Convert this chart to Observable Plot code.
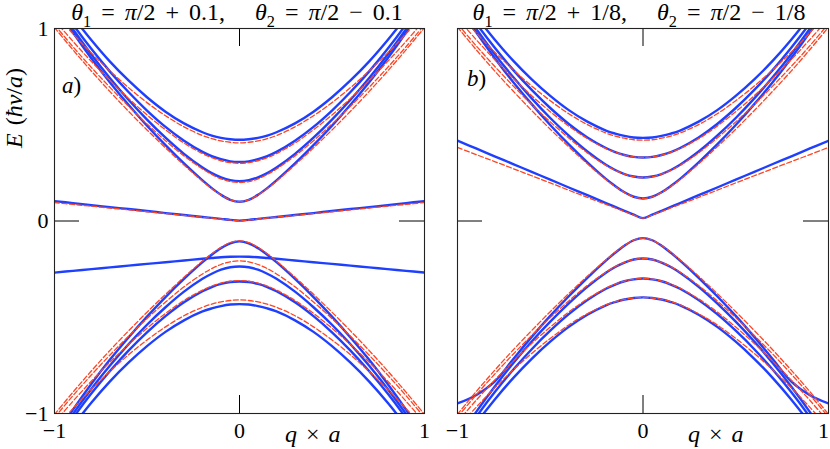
<!DOCTYPE html>
<html><head><meta charset="utf-8">
<script src="https://cdn.jsdelivr.net/npm/d3@7"></script>
<script src="https://cdn.jsdelivr.net/npm/@observablehq/plot@0.6"></script>
<style>
html,body{margin:0;padding:0;background:#fff;}
#wrap{position:relative;width:830px;height:449px;overflow:hidden;background:#fff;}
#wrap svg{position:absolute;top:0;left:0;}
</style></head><body><div id="wrap"></div>
<script>
// q × a sample positions
const qs = [-1,-0.9,-0.8,-0.7,-0.6,-0.5,-0.4,-0.3,-0.2,-0.15,-0.1,-0.05,0,0.05,0.1,0.15,0.2,0.3,0.4,0.5,0.6,0.7,0.8,0.9,1];
const xTicks = [-1, 0, 1];
const yTicks = [-1, 0, 1];
const innerTicks = [0];

// ---- panel a) blue (solid) ----
const aBlueUp1 = [1.125,0.979,0.844,0.720,0.604,0.495,0.394,0.299,0.211,0.171,0.136,0.110,0.100,0.110,0.136,0.171,0.211,0.299,0.394,0.495,0.604,0.720,0.844,0.979,1.125];
const aBlueUp2 = [1.139,0.996,0.864,0.742,0.630,0.527,0.433,0.349,0.278,0.249,0.227,0.212,0.207,0.212,0.227,0.249,0.278,0.349,0.433,0.527,0.630,0.742,0.864,0.996,1.139];
const aBlueUp3 = [1.161,1.021,0.893,0.776,0.670,0.574,0.489,0.417,0.359,0.337,0.321,0.310,0.307,0.310,0.321,0.337,0.359,0.417,0.489,0.574,0.670,0.776,0.893,1.021,1.161];
const aBlueUp4 = [1.197,1.061,0.939,0.828,0.730,0.643,0.568,0.507,0.461,0.444,0.432,0.425,0.422,0.425,0.432,0.444,0.461,0.507,0.568,0.643,0.730,0.828,0.939,1.061,1.197];
const aBlueFlatUp = [0.103,0.093,0.082,0.072,0.062,0.052,0.041,0.031,0.021,0.016,0.011,0.006,0.002,0.006,0.011,0.016,0.021,0.031,0.041,0.052,0.062,0.072,0.082,0.093,0.103];
const aBlueFlatLo = [-0.268,-0.259,-0.250,-0.241,-0.232,-0.223,-0.214,-0.205,-0.196,-0.192,-0.188,-0.186,-0.185,-0.186,-0.188,-0.192,-0.196,-0.205,-0.214,-0.223,-0.232,-0.241,-0.250,-0.259,-0.268];
const aBlueLo1 = [-1.125,-0.980,-0.845,-0.720,-0.605,-0.497,-0.395,-0.301,-0.214,-0.175,-0.141,-0.116,-0.106,-0.116,-0.141,-0.175,-0.214,-0.301,-0.395,-0.497,-0.605,-0.720,-0.845,-0.980,-1.125];
const aBlueLo2 = [-1.145,-1.002,-0.871,-0.751,-0.640,-0.539,-0.448,-0.367,-0.300,-0.274,-0.253,-0.240,-0.236,-0.240,-0.253,-0.274,-0.300,-0.367,-0.448,-0.539,-0.640,-0.751,-0.871,-1.002,-1.145];
const aBlueLo3 = [-1.163,-1.023,-0.895,-0.779,-0.673,-0.578,-0.494,-0.422,-0.365,-0.343,-0.327,-0.317,-0.314,-0.317,-0.327,-0.343,-0.365,-0.422,-0.494,-0.578,-0.673,-0.779,-0.895,-1.023,-1.163];
const aBlueLo4 = [-1.200,-1.065,-0.943,-0.833,-0.736,-0.650,-0.576,-0.516,-0.470,-0.454,-0.442,-0.434,-0.432,-0.434,-0.442,-0.454,-0.470,-0.516,-0.576,-0.650,-0.736,-0.833,-0.943,-1.065,-1.200];

// ---- panel a) red (dashed) ----
const aRedUp1 = [1.005,0.889,0.778,0.672,0.570,0.473,0.380,0.291,0.207,0.168,0.135,0.110,0.100,0.110,0.135,0.168,0.207,0.291,0.380,0.473,0.570,0.672,0.778,0.889,1.005];
const aRedUp2 = [1.020,0.905,0.797,0.694,0.596,0.504,0.417,0.338,0.270,0.242,0.219,0.205,0.200,0.205,0.219,0.242,0.270,0.338,0.417,0.504,0.596,0.694,0.797,0.905,1.020];
const aRedUp3 = [1.044,0.933,0.828,0.729,0.637,0.551,0.474,0.405,0.350,0.329,0.313,0.303,0.300,0.303,0.313,0.329,0.350,0.405,0.474,0.551,0.637,0.729,0.828,0.933,1.044];
const aRedUp4 = [1.079,0.972,0.872,0.779,0.693,0.615,0.547,0.489,0.444,0.428,0.416,0.409,0.406,0.409,0.416,0.428,0.444,0.489,0.547,0.615,0.693,0.779,0.872,0.972,1.079];
const aRedFlatUp = [0.096,0.086,0.077,0.067,0.058,0.048,0.039,0.029,0.020,0.015,0.010,0.005,0.000,0.005,0.010,0.015,0.020,0.029,0.039,0.048,0.058,0.067,0.077,0.086,0.096];
const aRedLo1 = [-1.005,-0.889,-0.778,-0.672,-0.571,-0.474,-0.381,-0.292,-0.208,-0.170,-0.137,-0.112,-0.103,-0.112,-0.137,-0.170,-0.208,-0.292,-0.381,-0.474,-0.571,-0.672,-0.778,-0.889,-1.005];
const aRedLo2 = [-1.021,-0.907,-0.799,-0.696,-0.599,-0.507,-0.421,-0.342,-0.275,-0.247,-0.226,-0.212,-0.207,-0.212,-0.226,-0.247,-0.275,-0.342,-0.421,-0.507,-0.599,-0.696,-0.799,-0.907,-1.021];
const aRedLo3 = [-1.047,-0.936,-0.831,-0.733,-0.642,-0.557,-0.480,-0.413,-0.359,-0.338,-0.323,-0.313,-0.310,-0.313,-0.323,-0.338,-0.359,-0.413,-0.480,-0.557,-0.642,-0.733,-0.831,-0.936,-1.047];
const aRedLo4 = [-1.081,-0.974,-0.873,-0.781,-0.695,-0.618,-0.550,-0.492,-0.448,-0.432,-0.420,-0.413,-0.410,-0.413,-0.420,-0.432,-0.448,-0.492,-0.550,-0.618,-0.695,-0.781,-0.873,-0.974,-1.081];

// ---- panel b) blue (solid) ----
const bBlueUp1 = [1.126,0.981,0.847,0.722,0.607,0.499,0.398,0.305,0.219,0.182,0.149,0.126,0.117,0.126,0.149,0.182,0.219,0.305,0.398,0.499,0.607,0.722,0.847,0.981,1.126];
const bBlueUp2 = [1.143,1.000,0.868,0.748,0.637,0.535,0.443,0.361,0.292,0.265,0.244,0.231,0.226,0.231,0.244,0.265,0.292,0.361,0.443,0.535,0.637,0.748,0.868,1.000,1.143];
const bBlueUp3 = [1.168,1.028,0.901,0.785,0.681,0.587,0.504,0.434,0.379,0.358,0.343,0.333,0.330,0.333,0.343,0.358,0.379,0.434,0.504,0.587,0.681,0.785,0.901,1.028,1.168];
const bBlueUp4 = [1.200,1.065,0.943,0.833,0.736,0.650,0.576,0.516,0.470,0.454,0.442,0.434,0.432,0.434,0.442,0.454,0.470,0.516,0.576,0.650,0.736,0.833,0.943,1.065,1.200];
const bBlueFlat = [0.417,0.377,0.336,0.296,0.255,0.215,0.174,0.134,0.093,0.073,0.053,0.033,0.015,0.033,0.053,0.073,0.093,0.134,0.174,0.215,0.255,0.296,0.336,0.377,0.417];
const bBlueLo1 = [-0.948,-0.905,-0.835,-0.718,-0.602,-0.493,-0.391,-0.295,-0.206,-0.165,-0.128,-0.100,-0.089,-0.100,-0.128,-0.165,-0.206,-0.295,-0.391,-0.493,-0.602,-0.718,-0.835,-0.905,-0.948];
const bBlueLo2 = [-1.137,-0.993,-0.861,-0.739,-0.626,-0.523,-0.428,-0.342,-0.269,-0.239,-0.216,-0.200,-0.195,-0.200,-0.216,-0.239,-0.269,-0.342,-0.428,-0.523,-0.626,-0.739,-0.861,-0.993,-1.137];
const bBlueLo3 = [-1.159,-1.019,-0.890,-0.773,-0.666,-0.570,-0.484,-0.411,-0.352,-0.330,-0.313,-0.303,-0.299,-0.303,-0.313,-0.330,-0.352,-0.411,-0.484,-0.570,-0.666,-0.773,-0.890,-1.019,-1.159];
const bBlueLo4 = [-1.188,-1.052,-0.928,-0.816,-0.716,-0.627,-0.550,-0.487,-0.438,-0.421,-0.408,-0.400,-0.397,-0.400,-0.408,-0.421,-0.438,-0.487,-0.550,-0.627,-0.716,-0.816,-0.928,-1.052,-1.188];

// ---- panel b) red (dashed) ----
const bRedUp1 = [1.007,0.891,0.780,0.675,0.574,0.477,0.385,0.297,0.215,0.179,0.148,0.125,0.117,0.125,0.148,0.179,0.215,0.297,0.385,0.477,0.574,0.675,0.780,0.891,1.007];
const bRedUp2 = [1.025,0.911,0.804,0.702,0.605,0.515,0.431,0.354,0.289,0.263,0.243,0.230,0.226,0.230,0.243,0.263,0.289,0.354,0.431,0.515,0.605,0.702,0.804,0.911,1.025];
const bRedUp3 = [1.053,0.943,0.839,0.742,0.651,0.568,0.493,0.428,0.376,0.357,0.342,0.333,0.330,0.333,0.342,0.357,0.376,0.428,0.493,0.568,0.651,0.742,0.839,0.943,1.053];
const bRedUp4 = [1.085,0.978,0.878,0.786,0.701,0.625,0.557,0.501,0.457,0.441,0.430,0.422,0.420,0.422,0.430,0.441,0.457,0.501,0.557,0.625,0.701,0.786,0.878,0.978,1.085];
const bRedFlat = [0.382,0.345,0.309,0.272,0.235,0.198,0.160,0.123,0.086,0.068,0.049,0.031,0.015,0.031,0.049,0.068,0.086,0.123,0.160,0.198,0.235,0.272,0.309,0.345,0.382];
const bRedLo1 = [-1.004,-0.887,-0.776,-0.670,-0.569,-0.471,-0.377,-0.287,-0.202,-0.162,-0.127,-0.100,-0.089,-0.100,-0.127,-0.162,-0.202,-0.287,-0.377,-0.471,-0.569,-0.670,-0.776,-0.887,-1.004];
const bRedLo2 = [-1.019,-0.904,-0.796,-0.692,-0.595,-0.502,-0.415,-0.335,-0.266,-0.237,-0.215,-0.200,-0.195,-0.200,-0.215,-0.237,-0.266,-0.335,-0.415,-0.502,-0.595,-0.692,-0.796,-0.904,-1.019];
const bRedLo3 = [-1.044,-0.932,-0.827,-0.729,-0.636,-0.551,-0.473,-0.405,-0.349,-0.328,-0.312,-0.302,-0.299,-0.302,-0.312,-0.328,-0.349,-0.405,-0.473,-0.551,-0.636,-0.729,-0.827,-0.932,-1.044];
const bRedLo4 = [-1.076,-0.968,-0.867,-0.774,-0.688,-0.610,-0.540,-0.482,-0.436,-0.419,-0.407,-0.400,-0.397,-0.400,-0.407,-0.419,-0.436,-0.482,-0.540,-0.610,-0.688,-0.774,-0.867,-0.968,-1.076];

// ---- texts ----
const titleA = [["θ","i"],["1","sub"],[" = ",""],["π","i"],["/2 + 0.1,   ",""],["θ","i"],["2","sub"],[" = ",""],["π","i"],["/2 − 0.1",""]];
const titleB = [["θ","i"],["1","sub"],[" = ",""],["π","i"],["/2 + 1/8,   ",""],["θ","i"],["2","sub"],[" = ",""],["π","i"],["/2 − 1/8",""]];
const yLabel = [["E","i"],[" (",""],["ħv","i"],["/",""],["a","i"],[")",""]];
const xLabel = [["q","i"],[" × ",""],["a","i"]];
const panelA = [["a","i"],[")",""]];
const panelB = [["b","i"],[")",""]];

// ---- style ----
const SERIF = "'Liberation Serif', 'Times New Roman', Times, 'DejaVu Serif', serif";
const BLUE = "#1f3fff";
const RED = "#ff4422";
const W = 830, H = 449, MT = 28, MB = 36;
const TICK_X = 18, TICK_Y = 25;
const FS = 22;
const fmt = d => (d < 0 ? "\u2212" : "") + Math.abs(d);

function rows(list) {
  return list.flatMap(([name, vals]) => qs.map((q, i) => ({q, E: vals[i], s: name})));
}

const panels = [
  {
    ml: 54, mr: 406, showY: true,
    blue: rows([["u1",aBlueUp1],["u2",aBlueUp2],["u3",aBlueUp3],["u4",aBlueUp4],["fu",aBlueFlatUp],["fl",aBlueFlatLo],["l1",aBlueLo1],["l2",aBlueLo2],["l3",aBlueLo3],["l4",aBlueLo4]]),
    red: rows([["u1",aRedUp1],["u2",aRedUp2],["u3",aRedUp3],["u4",aRedUp4],["fu",aRedFlatUp],["l1",aRedLo1],["l2",aRedLo2],["l3",aRedLo3],["l4",aRedLo4]]),
    title: titleA, titleX: 237, label: panelA, lastDx: 0
  },
  {
    ml: 457, mr: 2, showY: false,
    blue: rows([["u1",bBlueUp1],["u2",bBlueUp2],["u3",bBlueUp3],["u4",bBlueUp4],["fu",bBlueFlat],["l1",bBlueLo1],["l2",bBlueLo2],["l3",bBlueLo3],["l4",bBlueLo4]]),
    red: rows([["u1",bRedUp1],["u2",bRedUp2],["u3",bRedUp3],["u4",bRedUp4],["fu",bRedFlat],["l1",bRedLo1],["l2",bRedLo2],["l3",bRedLo3],["l4",bRedLo4]]),
    title: titleB, titleX: 639, label: panelB, lastDx: -5
  }
];

function rich(svg, x, y, parts, o = {}) {
  const size = o.size || FS;
  const t = d3.select(svg).append("text")
    .attr("transform", `translate(${x},${y})` + (o.rotate ? ` rotate(${o.rotate})` : ""))
    .attr("text-anchor", o.anchor || "start")
    .style("font-family", SERIF).style("font-size", size + "px")
    .style("word-spacing", (o.ws || 0) + "px")
    .attr("fill", "#000").style("white-space", "pre");
  let shift = 0;
  for (const [s, st] of parts) {
    const ts = t.append("tspan").text(s);
    const want = st === "sub" ? size * 0.28 : 0;
    if (want !== shift) { ts.attr("dy", want - shift); shift = want; }
    if (st === "i") ts.style("font-style", "italic");
    if (st === "sub") ts.style("font-size", (size * 0.68) + "px");
  }
}

const wrap = document.getElementById("wrap");
panels.forEach((p, k) => {
  const innerW = W - p.ml - p.mr, innerH = H - MT - MB;
  const svg = Plot.plot({
    width: W, height: H,
    marginLeft: p.ml, marginRight: p.mr, marginTop: MT, marginBottom: MB,
    x: {domain: [-1, 1], label: null, axis: null},
    y: {domain: [-1, 1], label: null, axis: null},
    style: {background: "transparent", fontFamily: SERIF, color: "#000", overflow: "visible"},
    marks: [
      Plot.line(p.blue, {x: "q", y: "E", z: "s", stroke: BLUE, strokeWidth: 2.4, curve: "catmull-rom", clip: true}),
      Plot.line(p.red, {x: "q", y: "E", z: "s", stroke: RED, strokeWidth: 1.3, strokeDasharray: "5,2.5", curve: "catmull-rom", clip: true}),
      Plot.ruleX(innerTicks, {x: d => d, insetBottom: innerH - TICK_X, stroke: "#000", strokeWidth: 1}),
      Plot.ruleX(innerTicks, {x: d => d, insetTop: innerH - TICK_X, stroke: "#000", strokeWidth: 1}),
      Plot.ruleY(innerTicks, {y: d => d, insetRight: innerW - TICK_Y, stroke: "#000", strokeWidth: 1}),
      Plot.ruleY(innerTicks, {y: d => d, insetLeft: innerW - TICK_Y, stroke: "#000", strokeWidth: 1}),
      Plot.frame({stroke: "#222", strokeWidth: 1.1}),
      Plot.axisX(xTicks.slice(0, 2), {anchor: "bottom", tickSize: 0, tickPadding: 9, fontSize: FS, tickFormat: fmt, label: null}),
      Plot.axisX(xTicks.slice(2), {anchor: "bottom", tickSize: 0, tickPadding: 9, fontSize: FS, tickFormat: fmt, label: null, dx: p.lastDx}),
      p.showY ? Plot.axisY(yTicks, {anchor: "left", tickSize: 0, tickPadding: 6, fontSize: FS, tickFormat: fmt, label: null}) : null
    ]
  });
  rich(svg, p.titleX, 20, p.title, {anchor: "middle", size: 24, ws: 4});
  rich(svg, p.ml + (k === 0 ? 8 : 10), k === 0 ? 93 : 86, p.label, {size: 23});
  rich(svg, p.ml + 231, 442, xLabel, {size: 24, ws: 3});
  if (k === 0) rich(svg, 22, 108, yLabel, {anchor: "middle", rotate: -90, size: 24, ws: 2});
  wrap.appendChild(svg);
});
</script></body></html>
